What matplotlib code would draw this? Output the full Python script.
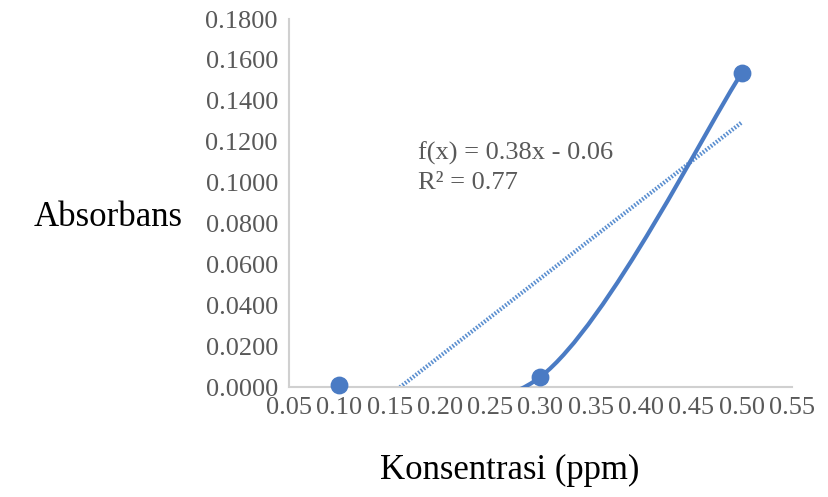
import numpy as np
import matplotlib
matplotlib.use("Agg")
import matplotlib.pyplot as plt
from matplotlib.path import Path
from matplotlib.patches import PathPatch, Rectangle

# data
konsentrasi = [0.10, 0.30, 0.50]
absorbans = [0.0010, 0.0050, 0.1535]
x_ticks = [0.05, 0.10, 0.15, 0.20, 0.25, 0.30, 0.35, 0.40, 0.45, 0.50, 0.55]
y_ticks = [0.0, 0.02, 0.04, 0.06, 0.08, 0.10, 0.12, 0.14, 0.16, 0.18]

blue = "#4a7bc4"
plt.rcParams['font.family'] = ['Liberation Serif', 'DejaVu Serif']

fig = plt.figure(figsize=(8.29, 4.97), dpi=100)
ax = fig.add_axes([289 / 829, 1 - 387 / 497, 503 / 829, 368 / 497])


def smooth_path(xs, ys):
    # excel-like smoothed line (catmull-rom as cubic bezier)
    pts = np.column_stack([xs, ys])
    n = len(pts)
    verts = [pts[0]]
    codes = [Path.MOVETO]
    for i in range(n - 1):
        p0 = pts[i - 1] if i > 0 else pts[i]
        p1 = pts[i]
        p2 = pts[i + 1]
        p3 = pts[i + 2] if i + 2 < n else pts[i + 1]
        c1 = p1 + (p2 - p0) / 6
        c2 = p2 - (p3 - p1) / 6
        verts += [c1, c2, p2]
        codes += [Path.CURVE4] * 3
    return Path(verts, codes)


curve = PathPatch(smooth_path(konsentrasi, absorbans), fill=False,
                  edgecolor=blue, lw=3, capstyle='butt', zorder=3)
ax.add_patch(curve)
# the smoothed line dips below zero between the first two points
clip = Rectangle((0.2, 0), 0.4, 0.2, transform=ax.transData, visible=False)
ax.add_patch(clip)
curve.set_clip_path(clip)
ax.scatter(konsentrasi, absorbans, s=140, color=blue, zorder=4, clip_on=False)

# linear trendline
slope, intercept = np.polyfit(konsentrasi, absorbans, 1)
pred = slope * np.array(konsentrasi) + intercept
r2 = 1 - np.sum((np.array(absorbans) - pred) ** 2) / np.sum((np.array(absorbans) - np.mean(absorbans)) ** 2)
tx = np.array([min(konsentrasi), max(konsentrasi)])
ax.plot(tx, slope * tx + intercept, color="#5b8fd0", lw=3,
        linestyle=(0, (0.4, 0.4)), zorder=2)

ax.text(0.178, 0.0969, f"f(x) = {slope:.2f}x - {abs(intercept):.2f}\nR² = {r2:.2f}",
        fontsize=19, color="#595959", linespacing=1.4, va='baseline')

ax.set_xlim(0.05, 0.55)
ax.set_ylim(0, 0.18)
ax.set_xticks(x_ticks)
ax.set_xticklabels([f"{v:.2f}" for v in x_ticks])
ax.set_yticks(y_ticks)
ax.set_yticklabels([f"{v:.4f}" for v in y_ticks])
ax.tick_params(length=0, labelsize=19, labelcolor="#595959")
ax.tick_params(axis='y', pad=8)
ax.tick_params(axis='x', pad=7)

for s in ['top', 'right']:
    ax.spines[s].set_visible(False)
for s in ['left', 'bottom']:
    ax.spines[s].set_color("#d0d0d0")
    ax.spines[s].set_linewidth(1.5)

fig.text(183 / 829, 1 - 217 / 497, "Absorbans", fontsize=25, ha='right', va='center')
fig.text(510 / 829, 1 - 470 / 497, "Konsentrasi (ppm)", fontsize=25, ha='center', va='center')

fig.savefig("out.png", dpi=100)
